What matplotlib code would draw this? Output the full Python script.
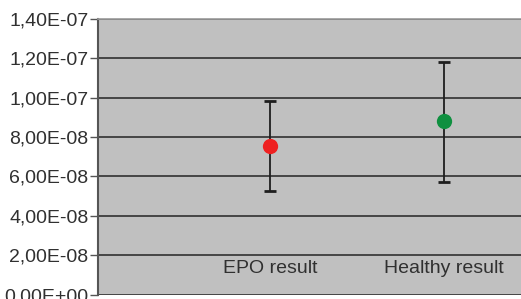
import matplotlib
matplotlib.use("Agg")
import matplotlib.pyplot as plt

categories = ["EPO result", "Healthy result"]
means = [7.56e-8, 8.83e-8]
upper = [9.85e-8, 1.183e-7]
lower = [5.28e-8, 5.74e-8]
colors = ["#ee2020", "#0f9040"]
yticks = [0, 2e-8, 4e-8, 6e-8, 8e-8, 1.0e-7, 1.2e-7, 1.4e-7]
ytick_labels = ["0,00E+00", "2,00E-08", "4,00E-08", "6,00E-08", "8,00E-08",
                "1,00E-07", "1,20E-07", "1,40E-07"]

W, H = 521, 299
fig = plt.figure(figsize=(W / 100, H / 100), dpi=100)
fig.patch.set_facecolor("white")
left, right, top, bottom = 98, 521, 19, 294.5
ax = fig.add_axes([left / W, 1 - bottom / H, (right - left) / W, (bottom - top) / H])
ax.set_facecolor("#c0c0c0")

font = "Liberation Sans"
tc = "#303030"

xs = list(range(len(categories)))
for i in xs:
    ax.errorbar(xs[i], means[i],
                yerr=[[means[i] - lower[i]], [upper[i] - means[i]]],
                fmt="none", ecolor="#1e1e1e", elinewidth=1.3, capsize=4,
                capthick=2, zorder=3)
    ax.plot(xs[i], means[i], "o", color=colors[i], markersize=11,
            markeredgewidth=0, zorder=4)

ax.set_ylim(0, 1.4e-7)
ax.set_xlim(-0.989, 1.443)
ax.set_yticks(yticks)
ax.set_yticklabels(ytick_labels, fontfamily=font, fontsize=14, color=tc)
ax.tick_params(axis="y", direction="out", length=6, width=1, color="#555555", pad=1)
ax.set_xticks([])
ax.yaxis.grid(True, color="#3c3c3c", linewidth=1.3)
ax.set_axisbelow(True)

for i, c in enumerate(categories):
    ax.text(xs[i], 1.32e-8, c, ha="center", va="center", fontfamily=font,
            fontsize=14, color=tc)

for s in ["right", "bottom"]:
    ax.spines[s].set_visible(False)
ax.spines["top"].set_color("#9a9a9a")
ax.spines["top"].set_linewidth(1.2)
ax.spines["left"].set_color("#555555")
ax.spines["left"].set_linewidth(1.5)

fig.savefig("out.png", dpi=100)
